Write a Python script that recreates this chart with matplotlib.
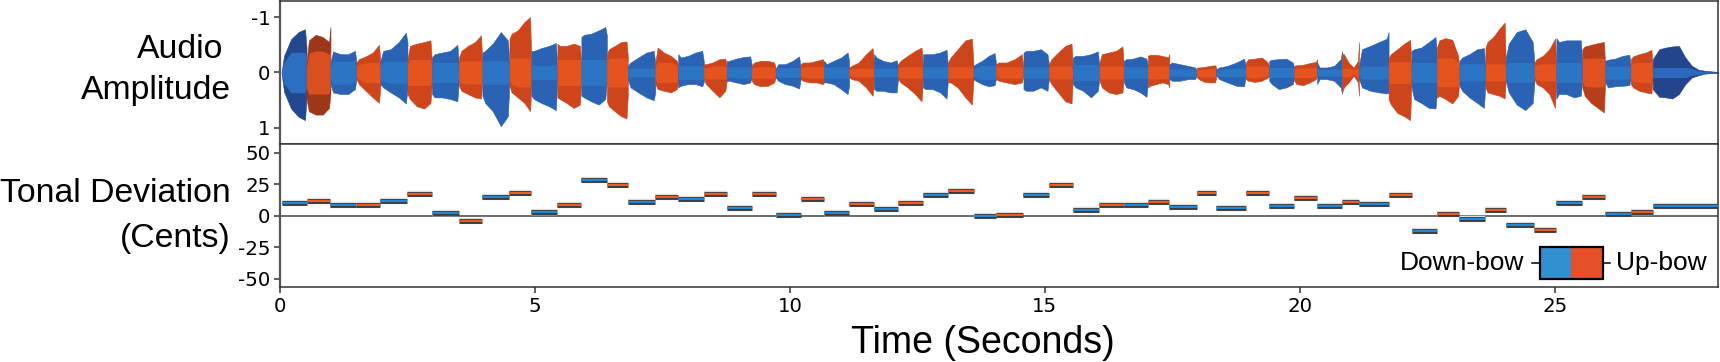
import matplotlib
matplotlib.use('Agg')
import matplotlib.pyplot as plt
from matplotlib.patches import Rectangle
import numpy as np

# note boundaries in seconds, down-bow and up-bow alternate
note_edges = [0.03, 0.52, 0.99, 1.50, 1.97, 2.50, 2.98, 3.51, 3.97, 4.50, 4.93, 5.44, 5.91, 6.41, 6.82,
              7.36, 7.81, 8.31, 8.76, 9.25, 9.72, 10.21, 10.67, 11.16, 11.65, 12.12, 12.61, 13.10, 13.60,
              14.04, 14.58, 15.08, 15.55, 16.07, 16.55, 17.02, 17.44, 17.98, 18.36, 18.94, 19.40, 19.89,
              20.34, 20.83, 21.16, 21.74, 22.19, 22.69, 23.13, 23.64, 24.04, 24.60, 25.03, 25.54, 25.99,
              26.49, 26.92, 28.20]

# tonal deviation of each note, cents
cents = [9.8, 11.6, 8.2, 8.2, 11.9, 17.5, 2.1, -4.5, 14.5, 17.7, 3.2, 8.5, 28.0, 24.3, 11.1, 14.8, 13.5,
         16.9, 5.8, 17.2, 0.3, 13.5, 2.4, 9.5, 5.3, 10.0, 16.7, 19.8, 0.0, 0.5, 16.7, 24.0, 4.8, 8.5, 8.7,
         10.6, 6.6, 18.3, 6.1, 18.0, 7.7, 13.8, 7.9, 11.1, 9.0, 16.1, -12.4, 1.3, -2.6, 4.2, -7.1, -11.1,
         10.0, 14.8, 1.3, 3.2, 7.7]

wave_top = [
    [0, .30, .60, .73, .78, .45], [.18, .58, .68, .64, .55, .82], [.18, .38, .33, .33, .39, .18],
    [.18, .24, .29, .36, .50, .18], [.21, .39, .42, .55, .72, .55], [.24, .48, .52, .55, .58, .18],
    [.27, .33, .36, .39, .50, .12], [.27, .39, .48, .55, .67, .12], [.36, .39, .52, .73, .58, .18],
    [.61, .70, .76, .91, 1.0, .18], [.39, .39, .44, .48, .53, .12], [.52, .48, .48, .52, .48, .12],
    [.64, .68, .70, .76, .82, .67], [.33, .42, .48, .55, .56, .30], [.12, .18, .27, .36, .39, .18],
    [.18, .45, .36, .30, .21, .12], [.33, .27, .30, .36, .39, .21], [.15, .15, .18, .24, .25, .12],
    [.21, .21, .25, .28, .29, .15], [.12, .18, .21, .21, .18, .09], [.06, .15, .15, .21, .29, .09],
    [.15, .18, .18, .21, .24, .18], [.21, .15, .21, .27, .36, .21], [.09, .12, .18, .33, .44, .18],
    [.33, .27, .21, .18, .22, .12], [.15, .21, .30, .39, .45, .12], [.33, .33, .33, .36, .41, .12],
    [.18, .27, .42, .58, .61, .12], [.12, .15, .21, .30, .35, .18], [.15, .18, .18, .24, .33, .09],
    [.36, .39, .39, .42, .33, .15], [.15, .24, .36, .48, .52, .09], [.27, .30, .30, .33, .38, .09],
    [.18, .33, .36, .39, .47, .09], [.21, .24, .25, .29, .25, .12], [.30, .32, .32, .30, .27, .33],
    [.15, .18, .15, .12, .09, .03], [.09, .09, .10, .12, .13, .09], [.06, .09, .12, .18, .25, .12],
    [.18, .24, .25, .27, .18, .09], [.21, .23, .24, .25, .18, .09], [.12, .13, .14, .17, .19, .24],
    [.18, .09, .09, .12, .24, .39], [.33, .33, .18, .09, .21, .55], [.12, .42, .48, .55, .61, .73],
    [.27, .33, .42, .52, .59, .09], [.39, .42, .45, .55, .64, .33], [.45, .58, .62, .59, .30, .06],
    [.21, .27, .33, .42, .44, .12], [.45, .55, .64, .79, .90, .12], [.27, .52, .73, .78, .55, .18],
    [.18, .24, .30, .42, .61, .12], [.62, .55, .58, .58, .58, .18], [.42, .47, .50, .53, .55, .06],
    [.21, .23, .25, .30, .32, .12], [.24, .29, .33, .36, .41, .09],
    [.24, .42, .45, .47, .48, .27, .12, .05, .03, .02, .01],
]

# lower half
wave_bot = [
    [0, .35, .65, .80, .86, .45], [.48, .70, .76, .76, .64, .36], [.21, .36, .39, .39, .30, .12],
    [.12, .21, .33, .45, .55, .24], [.21, .27, .36, .45, .56, .30], [.39, .48, .61, .65, .55, .18],
    [.39, .45, .45, .48, .52, .12], [.24, .33, .39, .45, .47, .12], [.42, .55, .70, .97, .79, .18],
    [.24, .36, .45, .55, .70, .24], [.42, .48, .55, .61, .68, .12], [.45, .48, .55, .64, .58, .12],
    [.42, .45, .52, .58, .48, .12], [.52, .61, .70, .79, .83, .42], [.12, .27, .36, .45, .50, .36],
    [.21, .30, .33, .36, .30, .18], [.27, .24, .21, .21, .25, .18], [.12, .21, .33, .45, .33, .15],
    [.15, .15, .18, .21, .18, .09], [.15, .21, .25, .24, .18, .09], [.09, .15, .21, .24, .29, .12],
    [.12, .15, .18, .18, .21, .18], [.18, .18, .21, .30, .39, .24], [.09, .12, .15, .27, .42, .18],
    [.30, .33, .33, .36, .36, .12], [.12, .18, .27, .39, .52, .12], [.27, .30, .30, .36, .47, .12],
    [.18, .18, .27, .45, .58, .12], [.12, .15, .21, .25, .23, .12], [.12, .15, .18, .21, .18, .06],
    [.30, .33, .33, .27, .33, .12], [.12, .21, .36, .52, .56, .09], [.21, .27, .33, .45, .33, .09],
    [.15, .27, .36, .39, .36, .06], [.18, .27, .30, .36, .44, .18], [.27, .24, .21, .18, .21, .27],
    [.12, .15, .15, .12, .12, .03], [.09, .12, .17, .18, .18, .09], [.05, .12, .18, .24, .25, .06],
    [.12, .15, .17, .15, .09, .05], [.15, .21, .30, .27, .21, .09], [.15, .21, .23, .18, .12, .06],
    [.21, .12, .12, .15, .27, .39], [.36, .27, .18, .06, .18, .42], [.12, .27, .33, .36, .38, .36],
    [.48, .58, .73, .79, .86, .12], [.27, .48, .55, .64, .65, .36], [.45, .42, .48, .56, .42, .12],
    [.24, .33, .45, .55, .64, .18], [.27, .36, .39, .42, .47, .12], [.15, .36, .58, .68, .55, .18],
    [.12, .21, .27, .39, .64, .12], [.47, .39, .39, .45, .42, .12], [.27, .42, .55, .64, .72, .06],
    [.18, .27, .25, .24, .23, .12], [.21, .27, .33, .36, .38, .09],
    [.30, .44, .45, .47, .39, .21, .09, .05, .02, .01, .01],
]

# half height of the lighter core in each note
wave_core = [.28, .30, .16, .14, .15, .18, .14, .16, .16, .20, .10, .18, .18, .20, .06, .14, .10, .09, .08,
             .08, .07, .08, .08, .06, .06, .08, .08, .08, .10, .08, .08, .09, .11, .09, .08, .09, .05, .06,
             .06, .09, .07, .07, .05, .06, .09, .15, .14, .20, .12, .12, .14, .12, .14, .20, .09, .14, .07]

xticks = [0, 5, 10, 15, 20, 25]
amp_ticks = [-1, 0, 1]
cent_ticks = [-50, -25, 0, 25, 50]

wave_frac = [0, .10, .38, .68, .94, 1]
DOWN = '#2a63b3'
DOWN_CORE = '#2c74c4'
UP = '#cf451b'
UP_CORE = '#e5531e'
DARK_NOTES = {0: ('#23488f', '#2c6fc0'), 1: ('#9e3618', '#d94f1f'), 56: ('#22458c', '#2c68bd'),
              53: ('#b83e1a', '#e0521f')}

plt.rcParams['font.family'] = 'DejaVu Sans'
plt.rcParams['axes.unicode_minus'] = False

W, H = 1720, 362
fig = plt.figure(figsize=(W/100, H/100), dpi=100)
L, R = 280/W, 1718/W
ax1 = fig.add_axes([L, 1-144.5/H, R-L, 143.5/H])
ax2 = fig.add_axes([L, 1-287/H, R-L, 142.5/H])

# waveform
for i in range(len(wave_top)):
    t0, t1 = note_edges[i], note_edges[i+1]
    top = np.array(wave_top[i])
    bot = np.array(wave_bot[i])
    if len(top) == len(wave_frac):
        frac = np.array(wave_frac)
    else:
        frac = np.linspace(0, 1, len(top))
    t = t0 + frac*(t1-t0)
    if i in DARK_NOTES:
        outer, core = DARK_NOTES[i]
    elif i % 2 == 0:
        outer, core = DOWN, DOWN_CORE
    else:
        outer, core = UP, UP_CORE
    ax1.fill_between(t, -top, bot, color=outer, lw=0.4)
    # core follows the envelope so it does not read as a flat stripe
    ax1.fill_between(t, -np.minimum(top*0.6, wave_core[i]*1.3), np.minimum(bot*0.6, wave_core[i]*1.3),
                     color=core, lw=0)

ax1.set_xlim(0, 28.2)
ax1.set_ylim(1.30, -1.29)
ax1.set_yticks(amp_ticks)
ax1.set_xticks([])

# pitch deviation
ax2.axhline(0, color='#444444', lw=1.1, zorder=1)
for i in range(len(cents)):
    col = '#1f88d8' if i % 2 == 0 else '#f2591c'
    xs = [note_edges[i], note_edges[i+1]]
    ys = [cents[i], cents[i]]
    ax2.plot(xs, ys, color='#dcdcdc', lw=4.6, solid_capstyle='butt', zorder=2)
    ax2.plot(xs, ys, color='#3a3a3a', lw=3.5, solid_capstyle='butt', zorder=3)
    ax2.plot(xs, ys, color=col, lw=1.5, solid_capstyle='butt', zorder=4)

ax2.set_xlim(0, 28.2)
ax2.set_ylim(-56.5, 56.5)
ax2.set_xticks(xticks)
ax2.set_yticks(cent_ticks)

for ax in [ax1, ax2]:
    ax.tick_params(labelsize=14.2, length=4, width=1.1, color='#333333', pad=3)
    for s in ax.spines.values():
        s.set_color('#333333')
        s.set_linewidth(1.1)
    ax.spines['left'].set_linewidth(1.6)
    ax.spines['left'].set_color('#555555')

# legend swatch
ax2.add_patch(Rectangle((24.70, -50), 0.61, 25.4, facecolor='#3390d0', edgecolor='none', zorder=5))
ax2.add_patch(Rectangle((25.31, -50), 0.63, 25.4, facecolor='#e5502a', edgecolor='none', zorder=5))
ax2.add_patch(Rectangle((24.70, -50), 1.24, 25.4, facecolor='none', edgecolor='black', lw=1.6, zorder=6))
ax2.plot([24.56, 24.70], [-37.3, -37.3], color='black', lw=1.1)
ax2.plot([25.94, 26.08], [-37.3, -37.3], color='black', lw=1.1)
ax2.text(24.41, -37.3, 'Down-bow', ha='right', va='center', fontsize=19, family='Liberation Sans')
ax2.text(26.20, -37.3, 'Up-bow', ha='left', va='center', fontsize=19, family='Liberation Sans')

# axis titles
lab = dict(fontsize=24.3, family='Liberation Sans', va='center')
fig.text(223/W, 1-49/H, 'Audio', ha='right', **lab)
fig.text(231/W, 1-90/H, 'Amplitude', ha='right', **lab)
fig.text(231/W, 1-194/H, 'Tonal Deviation', ha='right', **lab)
fig.text(231/W, 1-239/H, '(Cents)', ha='right', **lab)
fig.text(983/W, 1-343/H, 'Time (Seconds)', ha='center', fontsize=27, family='Liberation Sans', va='center')

fig.savefig('out.png', dpi=100)
